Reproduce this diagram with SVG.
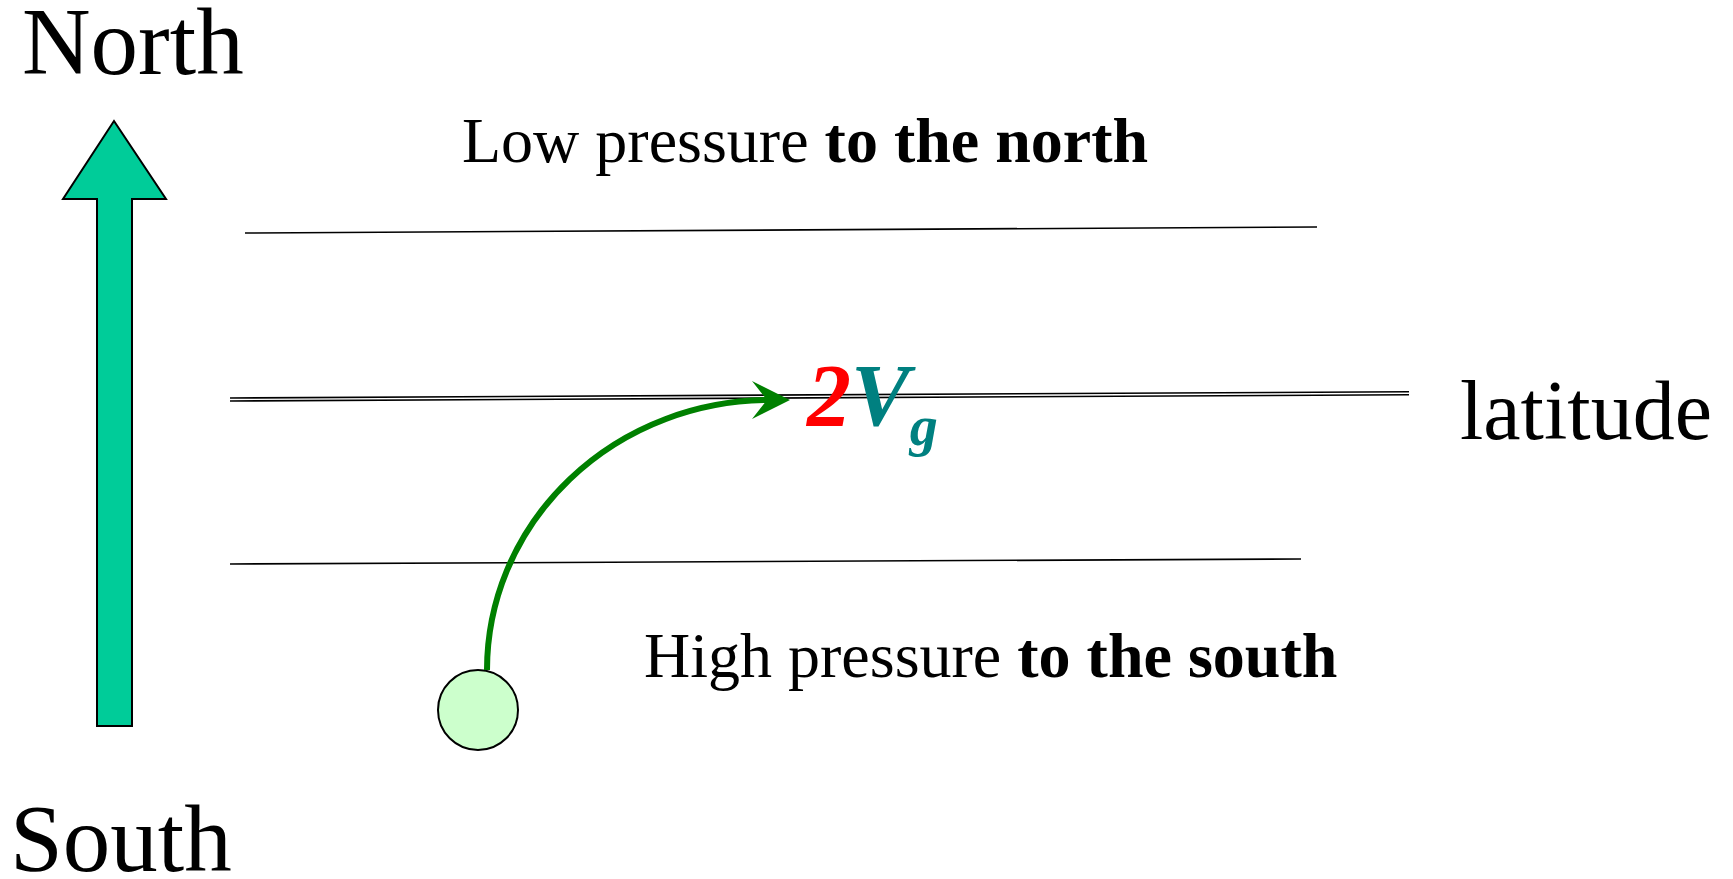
<svg xmlns="http://www.w3.org/2000/svg" width="1733" height="879" viewBox="0 0 1733 879">
<style>
text{font-family:"Liberation Serif","Times New Roman",serif;fill:#000}
.big{font-size:95px}
.lbl{font-size:64px}
.b{font-weight:bold}
.iso{stroke:#000;stroke-width:1.6;fill:none}
</style>
<rect width="1733" height="879" fill="#fff"/>
<g id="north-arrow">
<polygon points="114,121 166,199 132,199 132,726 97,726 97,199 63,199" fill="#00cc99" stroke="#000" stroke-width="2"/>
</g>
<g id="north-label"><text class="big" x="22" y="74">North</text></g>
<g id="south-label"><text class="big" x="10" y="871">South</text></g>
<g id="isobars">
<line class="iso" x1="245" y1="233" x2="1317" y2="227"/>
<line class="iso" x1="230" y1="398" x2="1409" y2="391.7" stroke-width="1.3"/>
<line class="iso" x1="230" y1="401" x2="1409" y2="394.7" stroke-width="1.3"/>
<line class="iso" x1="230" y1="564" x2="1301" y2="559"/>
</g>
<g id="low-label"><text class="lbl" x="462" y="162">Low pressure <tspan class="b">to the north</tspan></text></g>
<g id="high-label"><text class="lbl" x="644" y="677">High pressure <tspan class="b">to the south</tspan></text></g>
<g id="latitude-label"><text x="1460" y="439" style="font-size:84px">latitude</text></g>
<g id="parcel"><circle cx="478" cy="710" r="40" fill="#ccffcc" stroke="#000" stroke-width="2"/></g>
<g id="connectors">
<path d="M487,670 A283,270 0 0 1 770,400" fill="none" stroke="#008000" stroke-width="6"/>
<path d="M790,400 L752,381 L767,400 L752,419 Z" fill="#008000"/>
</g>
<g id="velocity-label"><text x="807" y="425" style="font-size:88px;font-weight:bold;font-style:italic"><tspan fill="#ff0000">2</tspan><tspan fill="#008080">V</tspan><tspan fill="#008080" dy="20" style="font-size:56px">g</tspan></text></g>
</svg>
